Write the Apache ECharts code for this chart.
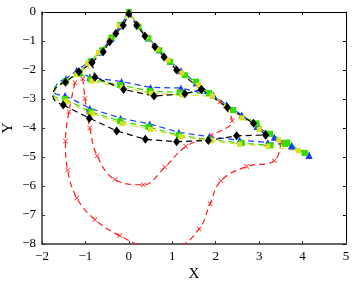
<!DOCTYPE html>
<html>
<head>
<meta charset="utf-8">
<script src="https://cdn.jsdelivr.net/npm/echarts@6/dist/echarts.min.js"></script>
<style>
  html, body { margin: 0; padding: 0; background: #fff; }
  #chart { width: 353px; height: 281px; }
</style>
</head>
<body>
<div id="chart"></div>
<script>
// axis ticks
const xTicks = [-2, -1, 0, 1, 2, 3, 4, 5];
const yTicks = [-8, -7, -6, -5, -4, -3, -2, -1, 0];

// red reference curves (x markers)
const redOuter = [[-1.24,-2.44],[-1.38,-3.44],[-1.46,-4.45],[-1.41,-5.45],[-1.2,-6.41],[-0.78,-7.16],[-0.21,-7.71],[0.45,-8.08],[1.08,-8.08],[1.62,-7.48],[1.87,-6.61],[2.12,-5.82],[2.71,-5.33],[3.35,-5.13],[3.5,-4.5]];
const redInner = [[-1.06,-2.3],[-1.01,-2.98],[-0.9,-4.0],[-0.73,-4.96],[-0.32,-5.78],[0.33,-5.96],[0.83,-5.35],[1.31,-4.64],[1.9,-4.25],[2.38,-3.75],[2.1,-3.1]];

// black (diamonds)
const blackEdge = [[3.15,-4.24],[2.87,-3.84],[2.27,-3.29],[1.67,-2.67],[1.1,-2.0],[0.81,-1.55],[0.6,-1.2],[0.37,-0.83],[0.18,-0.46],[0.0,-0.06],[-0.13,-0.46],[-0.3,-0.74],[-0.44,-1.03],[-0.59,-1.37],[-0.85,-1.74],[-1.15,-2.06],[-1.46,-2.42]];
const blackTurn = [[-1.46,-2.42],[-1.7,-2.65],[-1.75,-2.9],[-1.51,-3.21]];
const blackBottom = [[-1.51,-3.21],[-0.91,-3.66],[-0.28,-4.1],[0.38,-4.39],[1.1,-4.47],[1.83,-4.43],[2.48,-4.27],[3.15,-4.24]];
const blackMid = [[-0.85,-1.74],[-0.78,-2.25],[-0.12,-2.67],[0.58,-2.9],[1.29,-2.82],[1.67,-2.67]];

// blue (triangles)
const blueEdge = [[4.15,-4.95],[3.75,-4.62],[3.35,-4.32],[2.95,-3.95],[2.6,-3.55],[2.25,-3.2],[1.95,-2.88],[1.55,-2.45],[1.2,-2.03],[0.95,-1.7],[0.7,-1.3],[0.45,-0.9],[0.2,-0.43],[0.0,-0.02],[-0.2,-0.48],[-0.4,-0.9],[-0.65,-1.38],[-0.9,-1.7],[-1.2,-2.02],[-1.45,-2.3]];
const blueTurn = [[-1.45,-2.3],[-1.66,-2.5],[-1.72,-2.75],[-1.47,-2.88]];
const blueBottom = [[-1.47,-2.88],[-0.9,-3.32],[-0.19,-3.66],[0.48,-3.86],[1.15,-4.15],[1.85,-4.3],[2.55,-4.42],[3.2,-4.5],[3.75,-4.6],[4.15,-4.95]];
const blueMid = [[-1.2,-2.02],[-0.9,-2.25],[-0.17,-2.4],[0.5,-2.6],[1.2,-2.62],[1.95,-2.88]];

// green (squares)
const greenEdge = [[4.05,-4.86],[3.65,-4.5],[3.25,-4.2],[2.94,-3.84],[2.4,-3.38],[1.85,-2.8],[1.55,-2.4],[1.29,-2.18],[0.95,-1.72],[0.7,-1.32],[0.45,-0.9],[0.22,-0.5],[0.0,0.0],[-0.2,-0.45],[-0.4,-0.88],[-0.62,-1.32],[-0.88,-1.7],[-1.14,-2.12],[-1.45,-2.38]];
const greenTurn = [[-1.45,-2.38],[-1.68,-2.58],[-1.73,-2.85],[-1.47,-3.0]];
const greenBottom = [[-1.47,-3.0],[-0.88,-3.44],[-0.2,-3.76],[0.45,-3.96],[1.15,-4.25],[1.85,-4.4],[2.6,-4.52],[3.25,-4.6],[3.6,-4.55],[4.05,-4.86]];
const greenMid = [[-1.14,-2.12],[-0.88,-2.32],[-0.2,-2.52],[0.48,-2.72],[1.17,-2.78],[1.85,-2.8]];

// yellow (squares)
const yellowEdge = [[3.9,-4.78],[3.45,-4.42],[3.0,-4.05],[2.6,-3.65],[2.25,-3.27],[1.92,-2.9],[1.6,-2.52],[1.22,-2.1],[0.9,-1.66],[0.65,-1.27],[0.4,-0.84],[0.2,-0.44],[0.0,-0.04],[-0.22,-0.48],[-0.45,-0.95],[-0.7,-1.4],[-0.95,-1.77],[-1.2,-2.15],[-1.45,-2.45]];
const yellowTurn = [[-1.45,-2.45],[-1.68,-2.65],[-1.72,-2.9],[-1.45,-3.08]];
const yellowBottom = [[-1.45,-3.08],[-0.85,-3.5],[-0.15,-3.85],[0.5,-4.05],[1.2,-4.3],[1.9,-4.44],[2.55,-4.56],[3.2,-4.63],[3.9,-4.78]];
const yellowMid = [[-0.95,-1.77],[-0.85,-2.38],[-0.15,-2.6],[0.52,-2.8],[1.22,-2.86],[1.92,-2.9]];

const xMark = 'path://M0,1L1,0L5,4L9,0L10,1L6,5L10,9L9,10L5,6L1,10L0,9L4,5Z';
const dash = [6, 4];

function line(data, color, symbol, size, smooth) {
  return {
    type: 'line',
    data: data,
    smooth: smooth || false,
    symbol: symbol || 'none',
    showSymbol: !!symbol,
    symbolSize: size,
    lineStyle: { color: color, width: 1.2, type: dash },
    itemStyle: { color: color },
    z: 2
  };
}

const black = '#000000', blue = '#1a3cff', green = '#33dd00', yellow = '#d8e020', red = '#ff1a1a';

const series = [
  line(redOuter, red, xMark, 5, 0.4),
  line(redInner, red, xMark, 5, 0.4),
  line(blueEdge, blue, 'triangle', 7),
  line(blueTurn, blue, null, 0, 0.6),
  line(blueBottom, blue, 'triangle', 7),
  line(blueMid, blue, 'triangle', 7),
  line(greenEdge, green, 'rect', 6),
  line(greenTurn, green, null, 0, 0.6),
  line(greenBottom, green, 'rect', 6),
  line(greenMid, green, 'rect', 6),
  line(yellowEdge, yellow, 'rect', 5),
  line(yellowTurn, yellow, null, 0, 0.6),
  line(yellowBottom, yellow, 'rect', 5),
  line(yellowMid, yellow, 'rect', 5),
  line(blackEdge, black, 'diamond', [7, 9]),
  line(blackTurn, black, null, 0, 0.6),
  line(blackBottom, black, 'diamond', [7, 9]),
  line(blackMid, black, 'diamond', [7, 9])
];

const fmt = v => String(v).replace('-', '\u2212');
const labelFont = { fontFamily: 'Liberation Serif', fontSize: 13, color: '#000' };

const chart = echarts.init(document.getElementById('chart'));
chart.setOption({
  animation: false,
  grid: { left: 42, top: 12, right: 7, bottom: 37, containLabel: false, outerBoundsMode: 'none' },
  xAxis: [
    {
      type: 'value', min: xTicks[0], max: xTicks[xTicks.length - 1], interval: 1,
      name: 'X', nameLocation: 'middle', nameGap: 23, nameMoveOverlap: false,
      nameTextStyle: { fontFamily: 'Liberation Serif', fontSize: 15, color: '#000' },
      axisLine: { onZero: false, lineStyle: { color: '#333', width: 1.5 } },
      axisTick: { inside: true, length: 3, lineStyle: { color: '#333' } },
      axisLabel: Object.assign({ formatter: fmt, margin: 6 }, labelFont),
      splitLine: { show: false }
    },
    {
      type: 'value', position: 'top', min: xTicks[0], max: xTicks[xTicks.length - 1], interval: 1,
      axisLine: { onZero: false, lineStyle: { color: '#000', width: 1 } },
      axisTick: { inside: true, length: 3, lineStyle: { color: '#000' } },
      axisLabel: { show: false },
      splitLine: { show: false }
    }
  ],
  yAxis: [
    {
      type: 'value', min: yTicks[0], max: yTicks[yTicks.length - 1], interval: 1,
      name: 'Y', nameLocation: 'middle', nameGap: 26, nameRotate: 90, nameMoveOverlap: false,
      nameTextStyle: { fontFamily: 'Liberation Serif', fontSize: 15, color: '#000' },
      axisLine: { show: true, onZero: false, lineStyle: { color: '#333', width: 1.5 } },
      axisTick: { show: true, inside: true, length: 3, lineStyle: { color: '#333' } },
      axisLabel: Object.assign({ formatter: fmt, margin: 6 }, labelFont),
      splitLine: { show: false }
    },
    {
      type: 'value', position: 'right', min: yTicks[0], max: yTicks[yTicks.length - 1], interval: 1,
      axisLine: { show: true, onZero: false, lineStyle: { color: '#000', width: 1 } },
      axisTick: { show: true, inside: true, length: 3, lineStyle: { color: '#000' } },
      axisLabel: { show: false },
      splitLine: { show: false }
    }
  ],
  series: series
});
</script>
</body>
</html>
